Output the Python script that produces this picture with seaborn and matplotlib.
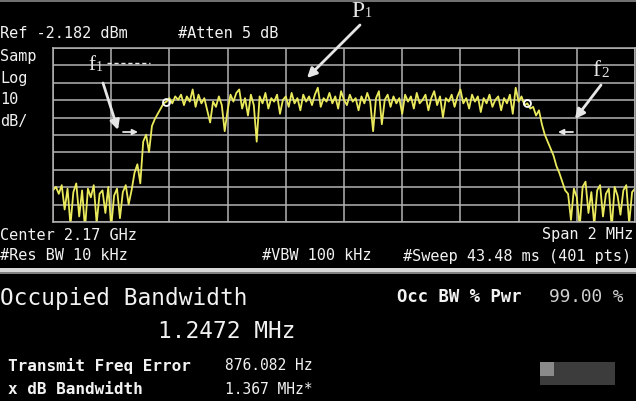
import numpy as np
import pandas as pd
import matplotlib
matplotlib.use('Agg')
import matplotlib.pyplot as plt
import seaborn as sns
from matplotlib.patches import Rectangle

# Spectrum analyser trace, levels in dBm
# (every other point of the 401 point sweep)
left_noise = [-84, -82, -86, -81, -95, -83, -104, -85, -80, -99, -84, -106, -83, -88,
              -81, -103, -86, -84, -97, -82, -105, -87, -83, -100, -85, -81, -92]
rise = [-84, -74, -69, -80, -56, -52, -62, -47, -43, -40, -37, -34]
plateau = [-33, -31, -34, -30, -32, -29, -35, -30, -33, -26, -36, -29, -34, -31, -38,
           -45, -33, -36, -30, -35, -50, -38, -29, -33, -28, -26, -37, -31, -41, -29,
           -35, -56, -30, -34, -28, -37, -31, -33, -29, -40, -32, -30, -36, -28, -34,
           -31, -38, -29, -33, -30, -35, -29, -25, -36, -31, -33, -28, -34, -30, -37,
           -27, -32, -35, -29, -33, -31, -38, -30, -34, -28, -33, -50, -31, -27, -46,
           -32, -29, -36, -30, -34, -31, -40, -29, -33, -30, -37, -28, -34, -32, -29,
           -38, -31, -27, -35, -30, -42, -31, -33, -29, -36, -30, -26, -34, -31, -37,
           -29, -33, -30, -39, -31, -34, -29, -36, -32, -30, -38, -31, -34, -29, -40,
           -25, -33, -30, -35, -34]
fall = [-37, -36, -41, -38, -46, -52, -56, -60, -64, -70, -74, -79, -84]
right_noise = [-86, -101, -83, -88, -105, -82, -79, -97, -85, -104, -84, -81, -99,
               -86, -83, -106, -82, -87, -98, -84, -81, -103, -85, -83]

marker_idx = [39, 163]   # occupied bandwidth edges

ref_level = -2.182
db_per_div = 10
span_mhz = 2.0

# screen annotations: (text, x px, y px from top, size, weight, align)
header_texts = [
    ("Ref -2.182 dBm", 0, 34, 11, 'normal', 'left'),
    ("#Atten 5 dB", 178, 34, 11, 'normal', 'left'),
    ("Samp", 0, 56, 11, 'normal', 'left'),
    ("Log", 0, 78, 11, 'normal', 'left'),
    ("10", 0, 100, 11, 'normal', 'left'),
    ("dB/", 0, 122, 11, 'normal', 'left'),
    ("Center 2.17 GHz", 0, 235, 11, 'normal', 'left'),
    ("Span 2 MHz", 633, 235, 11, 'normal', 'right'),
    ("#Res BW 10 kHz", 0, 256, 11, 'normal', 'left'),
    ("#VBW 100 kHz", 262, 256, 11, 'normal', 'left'),
    ("#Sweep 43.48 ms (401 pts)", 403, 256, 11, 'normal', 'left'),
]
result_texts = [
    ("Occupied Bandwidth", 0, 298, 16.4, 'normal', 'left'),
    ("1.2472 MHz", 158, 331, 16.4, 'normal', 'left'),
    ("Occ BW % Pwr", 397, 297, 12.4, 'bold', 'left'),
    ("99.00 %", 549, 297, 12.8, 'normal', 'left'),
    ("Transmit Freq Error", 8, 366, 11.5, 'bold', 'left'),
    ("876.082 Hz", 225, 366, 10.5, 'normal', 'left'),
    ("x dB Bandwidth", 8, 389, 11.5, 'bold', 'left'),
    ("1.367 MHz*", 225, 389, 10.5, 'normal', 'left'),
]

W, H = 636, 401
levels = left_noise + rise + plateau + fall + right_noise
df = pd.DataFrame({
    'freq_mhz': np.linspace(-span_mhz / 2, span_mhz / 2, len(levels)),
    'level_dbm': levels,
})

sns.set_style('dark', {'axes.facecolor': 'black', 'figure.facecolor': 'black',
                       'grid.color': '#b4b4b4', 'axes.edgecolor': '#b4b4b4'})
plt.rcParams['font.family'] = ['DejaVu Sans Mono', 'DejaVu Sans']


def fx(x):
    return x / W


def fy(y):
    return 1 - y / H


fig = plt.figure(figsize=(W / 100, H / 100), dpi=100)
ax = fig.add_axes([fx(53), fy(222), fx(635) - fx(53), fy(48) - fy(222)])

sns.lineplot(data=df, x='freq_mhz', y='level_dbm', ax=ax, color='#eaea5c', lw=1.3)
mk = df.iloc[marker_idx]
ax.plot(mk['freq_mhz'], mk['level_dbm'], 'o', mfc='none', mec='white', ms=5, mew=1.3)

ax.set_xlim(-span_mhz / 2, span_mhz / 2)
ax.set_ylim(ref_level - 10 * db_per_div, ref_level)
ax.set_xticks(np.linspace(-span_mhz / 2, span_mhz / 2, 11))
ax.set_yticks(ref_level - db_per_div * np.arange(11))
ax.grid(True, color='#b4b4b4', lw=1.1)
ax.tick_params(length=0, labelbottom=False, labelleft=False)
ax.set_xlabel('')
ax.set_ylabel('')
for s in ax.spines.values():
    s.set_color('#b4b4b4')
    s.set_linewidth(1.1)

for txt, x, y, size, weight, ha in header_texts + result_texts:
    col = '#d0d0d0' if txt.startswith('99') else '#f2f2f2'
    fig.text(fx(x), fy(y), txt, fontsize=size, fontweight=weight, color=col,
             ha=ha, va='center')

# separator between the trace screen and the result panel
fig.add_artist(Rectangle((0, fy(273)), 1, fy(268) - fy(273), transform=fig.transFigure,
                         color='#d8d8d8', lw=0))
fig.add_artist(Rectangle((0, fy(274)), 1, fy(272) - fy(274), transform=fig.transFigure,
                         color='#808080', lw=0))
fig.add_artist(Rectangle((0, fy(2)), 1, fy(0) - fy(2), transform=fig.transFigure,
                         color='#707070', lw=0))

# hand drawn labels
ann_col = '#e6e6e6'
serif = ['Liberation Serif', 'DejaVu Serif']
fig.text(fx(351), fy(17), 'P', fontsize=17, family=serif, color=ann_col, va='baseline')
fig.text(fx(365), fy(17), '1', fontsize=10, family=serif, color=ann_col, va='baseline')
fig.text(fx(88), fy(70), 'f', fontsize=15, family=serif, color=ann_col, va='baseline')
fig.text(fx(96), fy(71), '1', fontsize=10, family=serif, color=ann_col, va='baseline')
fig.text(fx(592), fy(76), 'f', fontsize=17, family=serif, color=ann_col, va='baseline')
fig.text(fx(601), fy(77), '2', fontsize=11, family=serif, color=ann_col, va='baseline')
fig.add_artist(plt.Line2D([fx(107), fx(150)], [fy(63), fy(63)], transform=fig.transFigure,
                          color=ann_col, lw=1, ls=(0, (3, 2))))

arrows = [
    ((360, 25), (307, 78), 2.0, 14),
    ((103, 83), (118, 130), 2.0, 14),
    ((601, 85), (575, 119), 2.0, 14),
    ((123, 132), (138, 132), 1.3, 8),
    ((573, 132), (558, 132), 1.3, 8),
]
for (x0, y0), (x1, y1), lw, ms in arrows:
    ax.annotate('', xy=(x1, H - y1), xytext=(x0, H - y0),
                xycoords='figure pixels', textcoords='figure pixels',
                arrowprops=dict(arrowstyle='-|>', color=ann_col, lw=lw,
                                mutation_scale=ms, shrinkA=0, shrinkB=0),
                annotation_clip=False)

# blurred watermark in the bottom right corner
fig.add_artist(Rectangle((fx(540), fy(385)), fx(75), fy(362) - fy(385),
                         transform=fig.transFigure, color='#3c3c3c', lw=0))
fig.add_artist(Rectangle((fx(540), fy(376)), fx(14), fy(362) - fy(376),
                         transform=fig.transFigure, color='#8a8a8a', lw=0))

fig.savefig('out.png', dpi=100, facecolor='black')
